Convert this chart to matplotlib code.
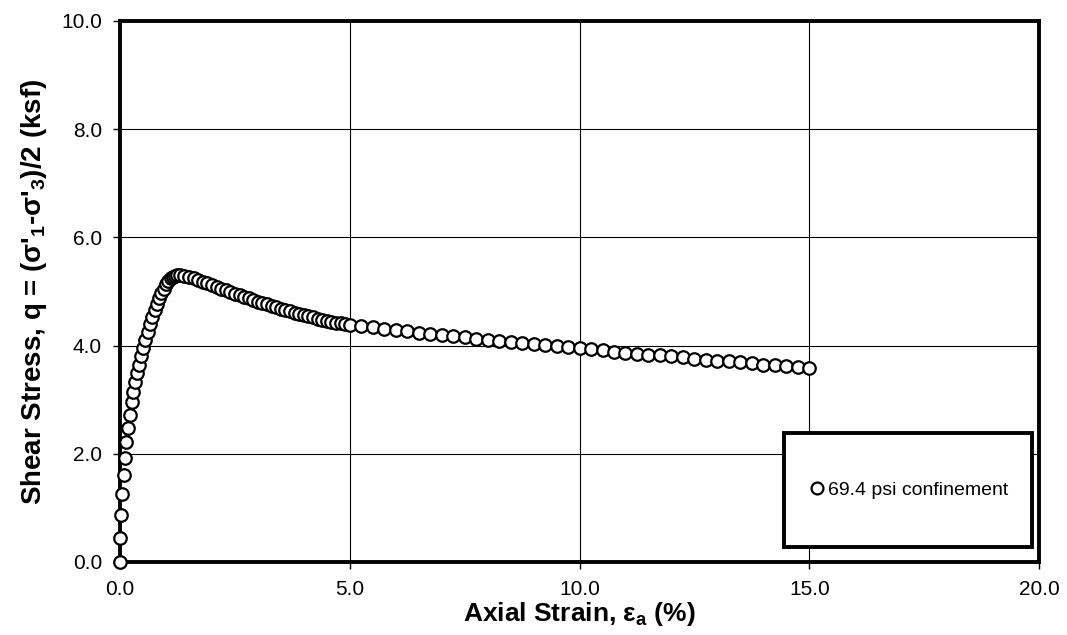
import matplotlib
matplotlib.use("Agg")
import matplotlib.pyplot as plt
from matplotlib.patches import Rectangle
from matplotlib.ticker import MultipleLocator, FormatStrFormatter

plt.rcParams['font.family'] = ['Liberation Sans', 'DejaVu Sans']
plt.rcParams['mathtext.fontset'] = 'custom'
plt.rcParams['mathtext.rm'] = 'Liberation Sans:bold'
plt.rcParams['mathtext.it'] = 'Liberation Sans:bold'
plt.rcParams['mathtext.bf'] = 'Liberation Sans:bold'

# axial strain (%) and shear stress q (ksf)
strain = [0.00, 0.01, 0.03, 0.05, 0.08, 0.11, 0.14, 0.17, 0.21, 0.25,
          0.29, 0.33, 0.37, 0.41, 0.45, 0.50, 0.55, 0.60, 0.65, 0.70,
          0.75, 0.80, 0.85, 0.90, 0.95, 1.00, 1.05, 1.10, 1.15, 1.20,
          1.25, 1.30, 1.40, 1.50, 1.60, 1.70, 1.80, 1.90, 2.00, 2.10,
          2.20, 2.30, 2.40, 2.50, 2.60, 2.70, 2.80, 2.90, 3.00, 3.10,
          3.20, 3.30, 3.40, 3.50, 3.60, 3.70, 3.80, 3.90, 4.00, 4.10,
          4.20, 4.30, 4.40, 4.50, 4.60, 4.70, 4.80, 4.90, 5.00,
          5.25, 5.50, 5.75, 6.00, 6.25, 6.50, 6.75, 7.00, 7.25, 7.50,
          7.75, 8.00, 8.25, 8.50, 8.75, 9.00, 9.25, 9.50, 9.75, 10.00,
          10.25, 10.50, 10.75, 11.00, 11.25, 11.50, 11.75, 12.00, 12.25, 12.50,
          12.75, 13.00, 13.25, 13.50, 13.75, 14.00, 14.25, 14.50, 14.75, 15.00]
stress = [0.00, 0.45, 0.87, 1.25, 1.60, 1.92, 2.22, 2.48, 2.72, 2.95,
          3.15, 3.33, 3.50, 3.65, 3.80, 3.95, 4.10, 4.25, 4.40, 4.52,
          4.65, 4.77, 4.88, 4.97, 5.05, 5.13, 5.19, 5.24, 5.27, 5.29,
          5.30, 5.30, 5.29, 5.27, 5.24, 5.21, 5.18, 5.15, 5.12, 5.09,
          5.05, 5.02, 4.99, 4.96, 4.93, 4.90, 4.87, 4.84, 4.81, 4.79,
          4.76, 4.73, 4.71, 4.68, 4.66, 4.63, 4.61, 4.59, 4.56, 4.54,
          4.52, 4.50, 4.48, 4.46, 4.44, 4.42, 4.41, 4.39, 4.38,
          4.36, 4.34, 4.31, 4.29, 4.27, 4.24, 4.22, 4.20, 4.18, 4.15,
          4.13, 4.11, 4.09, 4.07, 4.05, 4.03, 4.01, 3.99, 3.97, 3.95,
          3.93, 3.91, 3.89, 3.87, 3.85, 3.83, 3.82, 3.80, 3.78, 3.76,
          3.74, 3.72, 3.71, 3.69, 3.67, 3.65, 3.64, 3.62, 3.60, 3.58]
series_label = "69.4 psi confinement"

fig = plt.figure(figsize=(10.67, 6.35), dpi=100)
ax = fig.add_axes([0.1125, 0.115, 0.8613, 0.852])

ax.plot(strain, stress, linestyle='none', marker='o', markersize=9,
        markerfacecolor='white', markeredgecolor='black', markeredgewidth=1.6,
        label=series_label, clip_on=False, zorder=3)

ax.set_xlim(0, 20)
ax.set_ylim(0, 10)
ax.xaxis.set_major_locator(MultipleLocator(5))
ax.yaxis.set_major_locator(MultipleLocator(2))
ax.xaxis.set_major_formatter(FormatStrFormatter('%.1f'))
ax.yaxis.set_major_formatter(FormatStrFormatter('%.1f'))
ax.grid(True, color='black', linewidth=0.8)
ax.set_axisbelow(True)
for s in ax.spines.values():
    s.set_linewidth(2.8)
ax.tick_params(direction='out', length=5, width=1, labelsize=15, pad=8)

ax.set_xlabel(r"Axial Strain, ε$_a$ (%)", fontsize=19, fontweight='bold', labelpad=1)
ax.set_ylabel(r"Shear Stress, q = (σ'$_1$-σ'$_3$)/2 (ksf)", fontsize=20,
              fontweight='bold', labelpad=9)

# legend box (larger than the legend's own frame, as in the original)
ax.add_patch(Rectangle((0.7225, 0.028), 0.27, 0.21, transform=ax.transAxes,
                       facecolor='white', edgecolor='black', linewidth=2.8,
                       zorder=4))
leg = ax.legend(loc='center', bbox_to_anchor=(0.8575, 0.133), frameon=False,
                fontsize=14, handletextpad=0.05, handlelength=1.0,
                markerscale=0.95)
leg.set_zorder(5)

fig.savefig("out.png", dpi=100)
